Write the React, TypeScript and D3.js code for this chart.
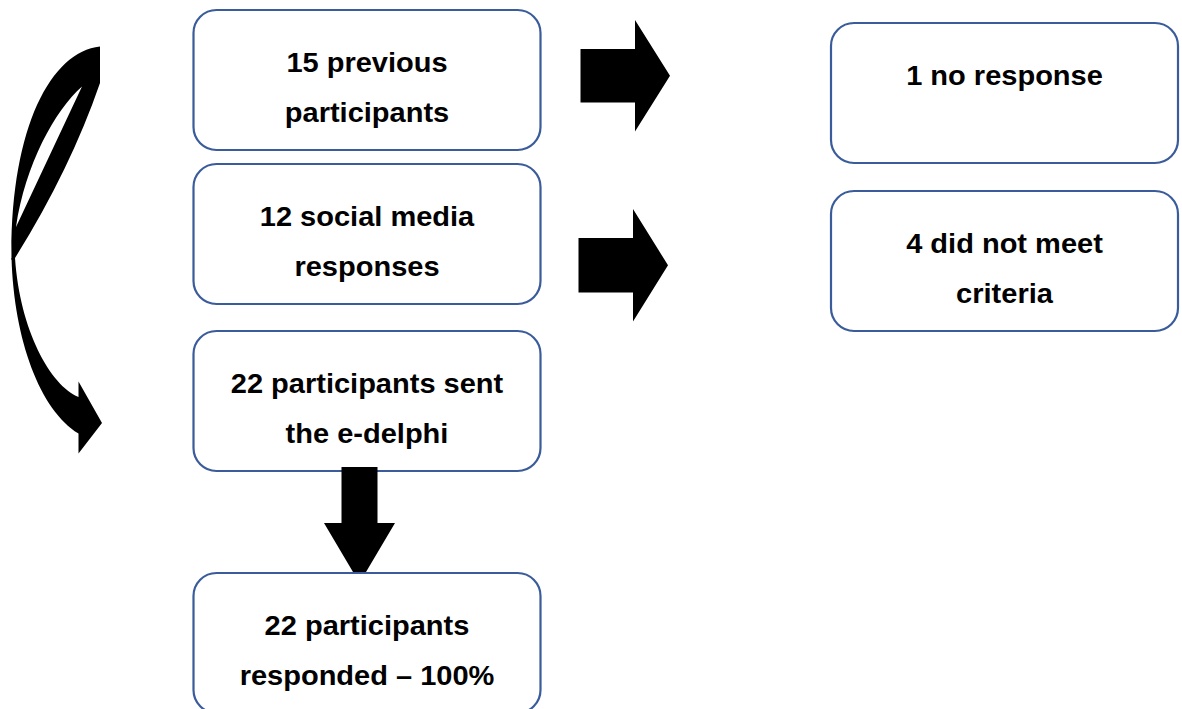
import React from 'react';
import * as d3 from 'd3';

// Box labels, one array of lines per box
const leftLabels: string[][] = [
  ['15 previous', 'participants'],
  ['12 social media', 'responses'],
  ['22 participants sent', 'the e-delphi'],
  ['22 participants', 'responded \u2013 100%'],
];
const rightLabels: string[][] = [
  ['1 no response'],
  ['4 did not meet', 'criteria'],
];

const W = 1182;
const H = 709;
const BORDER = '#3b5c9b';

// layout
const leftX = 193.5;
const rightX = 831;
const boxW = 347;
const boxH = 140;
const leftTops = [10, 164, 331, 573];
const rightTops = [23, 191];

const line = d3.line<[number, number]>();

// block arrow pointing right (shaft x0..hx, head to tip)
const rightArrow = (x0: number, y0: number, y1: number, hx: number, hy0: number, hy1: number, tx: number) => {
  const ty = (hy0 + hy1) / 2;
  return line([[x0, y0], [hx, y0], [hx, hy0], [tx, ty], [hx, hy1], [hx, y1], [x0, y1]]) + 'Z';
};

const downArrow = (x0: number, x1: number, y0: number, hy: number, hx0: number, hx1: number, ty: number) => {
  const tx = (hx0 + hx1) / 2;
  return line([[x0, y0], [x1, y0], [x1, hy], [hx1, hy], [tx, ty], [hx0, hy], [x0, hy]]) + 'Z';
};

// the curved arrow on the left, upper half (with its hole)
const curvedUpper = () => {
  const p = d3.path();
  p.moveTo(100, 46.5);
  p.bezierCurveTo(50, 52, 10, 130, 11.5, 260);
  p.lineTo(15, 258);
  p.quadraticCurveTo(70, 170, 100, 83);
  p.closePath();
  // hole
  p.moveTo(82, 86.5);
  p.bezierCurveTo(55, 110, 25, 165, 16, 227);
  p.closePath();
  return p.toString();
};

const curvedLower = () => {
  const p = d3.path();
  p.moveTo(11.5, 258);
  p.bezierCurveTo(14, 340, 40, 410, 78.5, 433.5);
  p.lineTo(78.5, 453.5);
  p.lineTo(102, 423);
  p.lineTo(78.5, 381.5);
  p.lineTo(78.5, 397);
  p.bezierCurveTo(50, 385, 20, 330, 15, 258);
  p.closePath();
  return p.toString();
};

const Box = ({ x, y, lines }: { x: number; y: number; lines: string[] }) => {
  const cx = x + boxW / 2;
  return (
    <g>
      <rect x={x} y={y} width={boxW} height={boxH} rx={23} ry={23}
        fill="#fff" stroke={BORDER} strokeWidth={2.2} />
      {lines.map((t, i) => (
        <text key={i} x={0} y={0}
          transform={`translate(${cx},${y + 62 + i * 49.5}) scale(1.075,1)`}
          textAnchor="middle"
          fontFamily="'Liberation Sans', Arial, sans-serif"
          fontWeight="bold" fontSize={27} fill="#000">{t}</text>
      ))}
    </g>
  );
};

export default function App() {
  return (
    <svg width={W} height={H} style={{ position: 'absolute', left: 0, top: 0, background: '#fff' }}>
      <path d={curvedUpper()} fill="#000" fillRule="evenodd" />
      <path d={curvedLower()} fill="#000" />

      {leftLabels.slice(0, 3).map((l, i) => (
        <Box key={i} x={leftX} y={leftTops[i]} lines={l} />
      ))}

      <path d={rightArrow(580.5, 49, 102.5, 635, 20, 131.5, 670)} fill="#000" />
      <path d={rightArrow(578.5, 238, 292.5, 633, 209, 321.5, 668)} fill="#000" />
      <path d={downArrow(341.5, 377.5, 467, 523, 324, 395, 583)} fill="#000" />

      <Box x={leftX} y={leftTops[3]} lines={leftLabels[3]} />

      {rightLabels.map((l, i) => (
        <Box key={i} x={rightX} y={rightTops[i]} lines={l} />
      ))}
    </svg>
  );
}
